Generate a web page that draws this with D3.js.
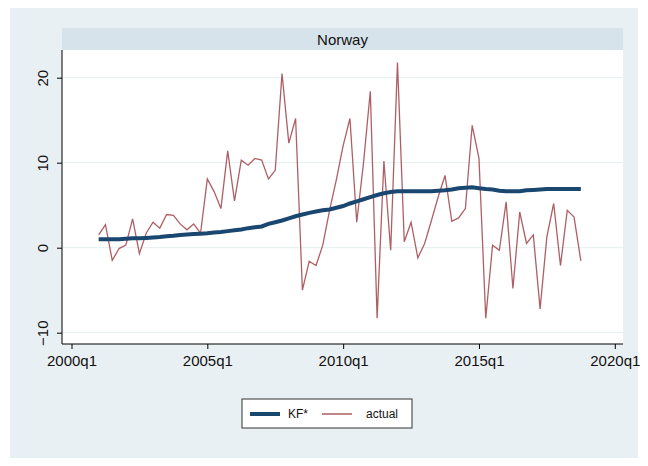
<!DOCTYPE html>
<html>
<head>
<meta charset="utf-8">
<script src="https://cdn.jsdelivr.net/npm/d3@7"></script>
<style>
  body { margin: 0; background: #fff; }
  svg { display: block; }
  text { font-family: "Liberation Sans", Arial, sans-serif; fill: #111; }
</style>
</head>
<body>
<div id="chart"></div>
<script>
var panelTitle = "Norway"
var seriesNames = ["KF*", "actual"]
var xTickValues = [0, 20, 40, 60, 80]   // quarters since 2000q1
var xTickLabels = ["2000q1", "2005q1", "2010q1", "2015q1", "2020q1"]
var yTickValues = [-10, 0, 10, 20]
var firstQuarter = 4  // 2001q1

var kfStar = [1.0, 1.0, 1.0, 1.0, 1.05, 1.1, 1.1, 1.15, 1.2, 1.25, 1.35, 1.4,
  1.5, 1.55, 1.6, 1.65, 1.7, 1.8, 1.85, 1.95, 2.05, 2.15, 2.3, 2.4,
  2.5, 2.8, 3.0, 3.2, 3.45, 3.7, 3.9, 4.1, 4.25, 4.4, 4.5, 4.7,
  4.9, 5.2, 5.45, 5.7, 5.95, 6.2, 6.4, 6.55, 6.65, 6.65, 6.65, 6.65,
  6.65, 6.65, 6.7, 6.75, 6.85, 7.0, 7.05, 7.1, 7.0, 6.9, 6.85, 6.7,
  6.65, 6.65, 6.65, 6.75, 6.8, 6.85, 6.9, 6.9, 6.9, 6.9, 6.9, 6.9]

var actual = [1.5, 2.7, -1.5, -0.1, 0.3, 3.4, -0.7, 1.7, 3.0, 2.3, 3.9, 3.8,
  2.8, 2.1, 2.8, 1.7, 8.1, 6.6, 4.6, 11.4, 5.5, 10.3, 9.7, 10.5,
  10.3, 8.1, 9.1, 20.5, 12.3, 15.2, -5.0, -1.6, -2.1, 0.3, 4.4, 8.0,
  12.0, 15.2, 3.0, 10.0, 18.4, -8.3, 10.2, -0.3, 21.8, 0.7, 3.0, -1.2,
  0.5, 3.2, 6.0, 8.5, 3.1, 3.5, 4.6, 14.4, 10.5, -8.3, 0.3, -0.3,
  5.4, -4.8, 4.2, 0.5, 1.5, -7.2, 1.3, 5.2, -2.1, 4.4, 3.6, -1.55]

var W = 648, H = 466
var plotL = 62, plotR = 623, stripTop = 28, stripBot = 50, axisY = 344

var svg = d3.select("#chart").append("svg").attr("width", W).attr("height", H)

// outer graph region
svg.append("rect").attr("x", 10).attr("y", 8).attr("width", 628).attr("height", 450)
  .attr("fill", "#e9f0f3")

// strip with panel title
svg.append("rect").attr("x", plotL).attr("y", stripTop)
  .attr("width", plotR - plotL).attr("height", stripBot - stripTop)
  .attr("fill", "#d7e3ea")
svg.append("text").attr("x", (plotL + plotR) / 2).attr("y", 45)
  .attr("text-anchor", "middle").style("font-size", "15px").text(panelTitle)

// plot region
svg.append("rect").attr("x", plotL).attr("y", stripBot)
  .attr("width", plotR - plotL).attr("height", axisY - stripBot)
  .attr("fill", "#fff")

var x = d3.scaleLinear().domain([0, 80]).range([71.5, 614.8])
var y = d3.scaleLinear().domain([-10, 20]).range([332.7, 77.7])

// grid
svg.append("g").selectAll("line").data(yTickValues).enter().append("line")
  .attr("x1", plotL + 1).attr("x2", plotR)
  .attr("y1", function(d) { return y(d) }).attr("y2", function(d) { return y(d) })
  .attr("stroke", "#e6eef0").attr("stroke-width", 1)

// axes
var yAxis = d3.axisLeft(y).tickValues(yTickValues).tickSize(5).tickPadding(10)
var gy = svg.append("g").attr("transform", "translate(" + plotL + ",0)").call(yAxis)
gy.select(".domain").attr("d", "M0," + stripBot + "V" + axisY).attr("stroke", "#000")
gy.selectAll(".tick line").attr("stroke", "#000")
gy.selectAll(".tick text")
  .attr("x", null).attr("dy", null)
  .attr("transform", "translate(-14,0) rotate(-90)")
  .attr("text-anchor", "middle").attr("dy", "0em")
  .style("font-size", "15px").style("font-family", "'Liberation Sans', Arial, sans-serif")
  .attr("fill", "#111")

var xAxis = d3.axisBottom(x).tickValues(xTickValues)
  .tickFormat(function(d, i) { return xTickLabels[i] }).tickSize(5).tickPadding(6)
var gx = svg.append("g").attr("transform", "translate(0," + axisY + ")").call(xAxis)
gx.select(".domain").attr("d", "M" + plotL + ",0H" + plotR).attr("stroke", "#000")
gx.selectAll(".tick line").attr("stroke", "#000")
gx.selectAll(".tick text").style("font-size", "15px")
  .style("font-family", "'Liberation Sans', Arial, sans-serif").attr("fill", "#111")

// series
var line = d3.line()
  .x(function(d, i) { return x(firstQuarter + i) })
  .y(function(d) { return y(d) })

svg.append("path").datum(actual).attr("d", line)
  .attr("fill", "none").attr("stroke", "#a0434a").attr("stroke-width", 1.3)
  .attr("stroke-opacity", 0.85)
svg.append("path").datum(kfStar).attr("d", line)
  .attr("fill", "none").attr("stroke", "#1a476f").attr("stroke-width", 4)

// legend
var lg = svg.append("g").attr("transform", "translate(242,399)")
lg.append("rect").attr("width", 170).attr("height", 29)
  .attr("fill", "#fff").attr("stroke", "#333").attr("stroke-width", 1)
lg.append("line").attr("x1", 8).attr("x2", 38).attr("y1", 15).attr("y2", 15)
  .attr("stroke", "#1a476f").attr("stroke-width", 4)
lg.append("text").attr("x", 46).attr("y", 19).style("font-size", "12px").text(seriesNames[0])
lg.append("line").attr("x1", 80).attr("x2", 110).attr("y1", 15).attr("y2", 15)
  .attr("stroke", "#a0434a").attr("stroke-width", 1.3)
lg.append("text").attr("x", 124).attr("y", 19).style("font-size", "12px").text(seriesNames[1])
</script>
</body>
</html>
